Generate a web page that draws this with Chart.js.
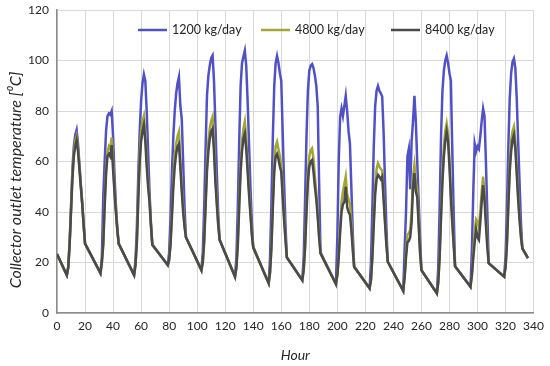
<!DOCTYPE html>
<html lang="en">
<head>
<meta charset="UTF-8">
<title>Collector outlet temperature</title>
<script src="https://cdn.jsdelivr.net/npm/chart.js@4.4.1/dist/chart.umd.min.js"></script>
<style>
  html, body { margin: 0; padding: 0; background: #fff; }
  #wrap { width: 550px; height: 366px; }
</style>
</head>
<body>
<div id="wrap"><canvas id="chart" width="550" height="366"></canvas></div>
<script>
// hours of the simulation (only the points where the lines bend)
var hours = [0,
  7, 8, 9, 10, 11, 12, 13, 14, 15, 16, 17, 18, 19, 20,
  31, 32, 33, 34, 35, 36, 37, 38, 39, 40, 41, 42, 43, 44,
  55, 56, 57, 58, 59, 60, 61, 62, 63, 64, 65, 66, 67, 68,
  79, 80, 81, 82, 83, 84, 85, 86, 87, 88, 89, 90, 91, 92,
  103, 104, 105, 106, 107, 108, 109, 110, 111, 112, 113, 114, 115, 116,
  127, 128, 129, 130, 131, 132, 133, 134, 135, 136, 137, 138, 139, 140,
  151, 152, 153, 154, 155, 156, 157, 158, 159, 160, 161, 162, 163, 164,
  175, 176, 177, 178, 179, 180, 181, 182, 183, 184, 185, 186, 187, 188,
  199, 200, 201, 202, 203, 204, 205, 206, 207, 208, 209, 210, 211, 212,
  223, 224, 225, 226, 227, 228, 229, 230, 231, 232, 233, 234, 235, 236,
  247, 248, 249, 250, 251, 252, 253, 254, 255, 256, 257, 258, 259, 260,
  271, 272, 273, 274, 275, 276, 277, 278, 279, 280, 281, 282, 283, 284,
  295, 296, 297, 298, 299, 300, 301, 302, 303, 304, 305, 306, 307, 308,
  319, 320, 321, 322, 323, 324, 325, 326, 327, 328, 329, 330, 331, 332,
  336];

var t1200 = [23.4,
  15, 18, 28, 42, 57, 66, 70.5, 72.5, 67, 59, 51, 44, 35, 27.5,
  15.8, 22, 46, 60, 72, 78, 79, 78.5, 80, 70, 55, 43, 34, 27.5,
  15, 21, 34, 55, 72, 84, 91, 94.5, 92, 80, 64, 48, 36, 27,
  19, 24, 38, 56, 70, 80, 87, 91, 93.5, 82, 77, 60, 42, 30,
  17, 24, 42, 65, 86, 94, 98, 101, 102, 92, 75, 56, 40, 29,
  14.4, 22, 42, 68, 90, 99, 101.5, 103.9, 98, 84, 67, 50, 36, 26,
  11.8, 22, 44, 70, 90, 99, 101.8, 99, 95, 92, 72, 52, 35, 22,
  13, 22, 45, 70, 88, 96, 98, 98.6, 97, 94, 90, 82, 52, 24,
  11.5, 30, 60, 77.7, 81, 78, 82, 86, 80, 72, 67, 50, 32, 18.3,
  9.8, 20, 42, 66, 82, 88, 89.9, 88, 87, 85.7, 72, 52, 34, 20.3,
  8.8, 25, 40, 62, 65, 49, 68, 76, 86, 76, 60, 45, 30, 17,
  7.8, 18, 42, 70, 88, 96, 100, 102, 99, 95, 92, 65, 40, 18.5,
  10.4, 25, 48, 67, 64, 66, 65, 70, 76, 81, 78, 60, 40, 19.7,
  14.4, 22, 42, 66, 85, 95, 99.5, 100.8, 97, 85, 68, 52, 36, 25.6,
  21.7];

var t4800 = [23.4,
  15, 18, 27, 41, 55, 63.5, 68, 70, 65, 58, 50, 43, 35, 27.5,
  15.8, 20, 28, 44, 57, 64, 66, 65, 69.5, 60, 49, 41, 33, 27.5,
  15, 19, 29, 47, 63, 72, 76, 78, 71, 61, 52, 45, 35, 27,
  19, 21, 28, 40, 53, 62, 67, 70, 71.8, 61, 50, 42, 35, 30,
  17, 20, 29, 44, 59, 68, 73, 76, 77.7, 68, 55, 45, 36, 29,
  14.4, 18, 28, 44, 59, 68, 73, 75.8, 69, 59, 49, 40, 32, 26,
  11.8, 16, 27, 44, 59, 66, 67.8, 65, 62, 59, 49, 39, 30, 22,
  13, 17, 27, 42, 55, 62, 64.5, 65.2, 61, 54, 48, 40, 31, 23.6,
  11.5, 15, 23, 34, 44, 48, 51, 54, 47, 45, 43, 36, 27, 18.3,
  9.8, 13, 23, 37, 50, 57, 59.3, 58, 57, 56.5, 47, 37, 28, 20.3,
  8.8, 14, 24, 31, 31.5, 33, 40, 54, 58.6, 52, 48.7, 37, 25, 17,
  7.8, 12, 23, 40, 55, 66, 72, 75, 71, 61, 48, 37, 28, 18.5,
  10.4, 15, 24, 32, 37, 36, 34, 40, 48, 54, 48, 38, 28, 19.7,
  14.4, 18, 28, 44, 59, 68, 72, 73.8, 68, 58, 47, 38, 31, 25.6,
  21.7];

var t8400 = [23.4,
  15, 18, 27, 40, 53, 62, 66, 68.5, 64, 57, 50, 43, 35, 27.5,
  15.8, 20, 27, 42, 55, 62, 63, 62, 66.5, 57, 48, 40, 33, 27.5,
  15, 19, 28, 45, 60, 68, 72, 74.5, 68, 58, 50, 44, 35, 27,
  19, 21, 27, 38, 50, 58, 63, 66, 67, 58, 48, 40, 34, 30,
  17, 20, 28, 42, 56, 64, 69, 72, 73, 64, 52, 43, 35, 29,
  14.4, 18, 27, 42, 56, 64, 69, 71, 65, 56, 47, 39, 31, 26,
  11.8, 16, 26, 42, 56, 62, 63, 61, 58, 56, 46, 37, 29, 22,
  13, 17, 26, 40, 52, 58, 60, 60.6, 56, 50, 45, 38, 30, 23.6,
  11.5, 15, 22, 32, 40, 43, 44, 50, 42, 40, 39, 33, 25, 18.3,
  9.8, 13, 22, 35, 47, 53, 54.7, 54, 53, 54, 45, 36, 27, 20.3,
  8.8, 14, 22, 28, 28.5, 30, 36, 50, 55.4, 48, 46, 35, 24, 17,
  7.8, 12, 22, 38, 52, 62, 68, 71.8, 68, 58, 46, 36, 27, 18.5,
  10.4, 15, 22, 28, 33, 30, 29, 36, 44, 50.6, 45, 35, 26, 19.7,
  14.4, 18, 27, 42, 56, 64, 68.5, 70.5, 65, 55, 45, 37, 30, 25.6,
  21.7];

var seriesNames = ["1200 kg/day", "4800 kg/day", "8400 kg/day"];
var seriesColors = ["#5151c6", "#a5a533", "#4a4a4a"];
var yTitle = "Collector outlet temperature [⁰C]";

function points(vals) {
  return hours.map(function (h, i) { return { x: h, y: vals[i] }; });
}

var fontFamily = "Lato, 'Open Sans', sans-serif";

// legend inside the plot area and the y title, placed like the original
var overlays = {
  id: "overlays",
  afterDraw: function (chart) {
    var c = chart.ctx;
    var lineX = [138, 261, 391];
    var y = 30;
    c.save();
    c.font = "12.5px " + fontFamily;
    c.textBaseline = "middle";
    chart.data.datasets.forEach(function (ds, i) {
      c.strokeStyle = ds.borderColor;
      c.lineWidth = 2.5;
      c.beginPath();
      c.moveTo(lineX[i], y);
      c.lineTo(lineX[i] + 29, y);
      c.stroke();
      c.fillStyle = "#262626";
      c.fillText(ds.label, lineX[i] + 34, y);
    });
    c.translate(16, 180);
    c.rotate(-Math.PI / 2);
    c.textAlign = "center";
    c.font = "italic 16px " + fontFamily;
    c.fillText(yTitle, 0, 0);
    c.restore();
  }
};

var ctx = document.getElementById("chart").getContext("2d");
var chart = new Chart(ctx, {
  type: "line",
  data: {
    datasets: [
      { label: seriesNames[0], data: points(t1200), borderColor: seriesColors[0], order: 3 },
      { label: seriesNames[1], data: points(t4800), borderColor: seriesColors[1], order: 2 },
      { label: seriesNames[2], data: points(t8400), borderColor: seriesColors[2], order: 1 }
    ]
  },
  options: {
    responsive: false,
    animation: false,
    layout: { padding: { top: 10, right: 15, left: 0, bottom: 0 } },
    elements: {
      line: { borderWidth: 2.5, tension: 0 },
      point: { radius: 0 }
    },
    plugins: {
      legend: { display: false },
      tooltip: { enabled: false }
    },
    scales: {
      x: {
        type: "linear",
        min: 0,
        max: 340,
        ticks: { stepSize: 20, color: "#262626", font: { family: fontFamily, size: 12 }, padding: 6, maxRotation: 0 },
        grid: { color: "#d9d9d9", drawTicks: false },
        border: { color: "#8c8c8c", width: 1.5 },
        title: { display: true, text: "Hour", color: "#262626", font: { family: fontFamily, size: 14, style: "italic" }, padding: { top: 4, bottom: 2 } },
        afterFit: function (scale) { scale.height = 53; }
      },
      y: {
        min: 0,
        max: 120,
        ticks: { stepSize: 20, color: "#262626", font: { family: fontFamily, size: 12 }, padding: 8 },
        grid: { color: "#d9d9d9", drawTicks: false },
        border: { color: "#8c8c8c", width: 1.5 },
        afterFit: function (scale) { scale.width = 57; scale.paddingTop = 0; }
      }
    }
  },
  plugins: [overlays]
});
</script>
</body>
</html>
